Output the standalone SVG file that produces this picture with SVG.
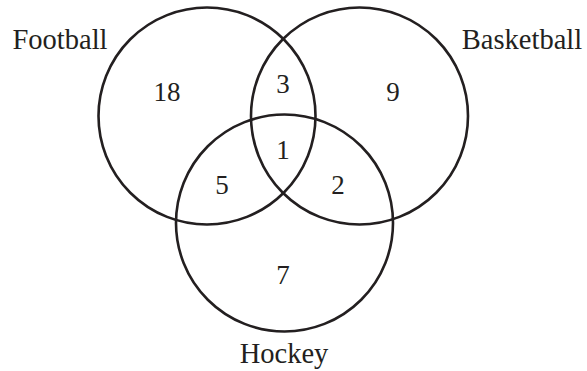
<svg xmlns="http://www.w3.org/2000/svg" width="587" height="371" viewBox="0 0 587 371">
<style>
.c{fill:none;stroke:#231f20;stroke-width:2.6}
text{font-family:"Liberation Serif","Times New Roman",serif;font-size:27px;fill:#231f20;text-anchor:middle}
.l{font-size:28.5px}
</style>
<rect width="587" height="371" fill="#fff"/>
<g id="football"><circle class="c" cx="207" cy="116" r="108.5"/><text class="l" x="60" y="49">Football</text></g>
<g id="basketball"><circle class="c" cx="359.5" cy="116" r="108.5"/><text class="l" x="522" y="49">Basketball</text></g>
<g id="hockey"><circle class="c" cx="284.5" cy="223" r="108.5"/><text class="l" x="284" y="363">Hockey</text></g>
<g id="counts">
<text x="167" y="101">18</text>
<text x="283" y="93">3</text>
<text x="393" y="101">9</text>
<text x="283" y="159">1</text>
<text x="222" y="194">5</text>
<text x="338" y="194">2</text>
<text x="283" y="284">7</text>
</g>
</svg>
